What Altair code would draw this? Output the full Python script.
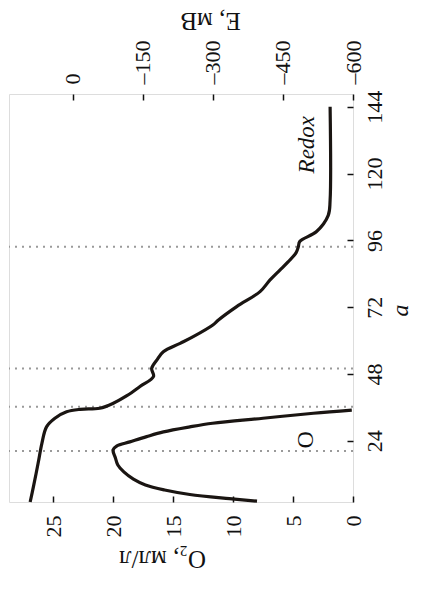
import altair as alt
import pandas as pd

# ---- data ----
o2_hours = [2.3, 3.2, 4.7, 6.3, 8.1, 10.2, 12.8, 15.3, 17.8, 20.7, 22.1, 23.6, 25.5, 27.2, 29.0, 30.3, 32.1, 33.9, 35.0]
o2_values = [8.0, 10.3, 13.6, 15.7, 17.3, 18.3, 19.1, 19.6, 19.8, 20.0, 19.7, 18.6, 17.2, 15.8, 13.6, 11.7, 7.5, 3.3, 0.1]

redox_hours = [2.0, 7.5, 15.9, 23.0, 29.0, 32.1, 34.4, 35.3, 35.7, 37.5, 40.2, 43.5, 47.1, 50.0, 53.0, 56.0, 59.0,
               61.4, 65.6, 67.4, 72.2, 77.6, 81.7, 85.4, 88.3, 91.5, 93.7, 95.6, 99.2, 105.0, 110.5, 144.0]
redox_mv = [91, 84, 74, 66, 56, 38, 13, -16, -58, -87, -116, -144, -173, -169, -180, -194, -230,
            -258, -300, -312, -351, -401, -422, -444, -461, -478, -483, -486, -522, -547, -551, -551]

dotted_hours = [20.3, 36.2, 50.0, 93.7]

a_ticks = [24, 48, 72, 96, 120, 144]
o2_ticks = [0, 5, 10, 15, 20, 25]
e_ticks = [0, -150, -300, -450, -600]

# ---- annotation positions ----
redox_label = {"a": 130.4, "e": -502, "t": "Redox"}
o_label = {"a": 24.3, "o2": 3.9, "t": "O"}

W, H = 344, 408
FONT = "Liberation Serif"
INK = "#1a1512"

y_dom = [2.0, 148.6]
o2_dom = [0, 28.67]
e_dom = [-600, 136.3]


def ys():
    return alt.Scale(domain=y_dom, nice=False, zero=False)


def o2s():
    return alt.Scale(domain=o2_dom, reverse=True, nice=False, zero=False)


def es():
    return alt.Scale(domain=e_dom, reverse=True, nice=False, zero=False)


o2_df = pd.DataFrame({"a": o2_hours, "o2": o2_values})
e_df = pd.DataFrame({"a": redox_hours, "e": redox_mv})

common_lbl = dict(ticks=False, tickSize=0, domain=False, grid=False, labelFlush=False,
                  labelOverlap=False, labelFontSize=22, titleFontSize=25, labelFont=FONT,
                  titleFont=FONT, labelColor="#111", titleColor="#111", titleFontWeight="normal",
                  titleAlign="center", titleBaseline="middle")
tick_only = dict(labels=False, domain=False, grid=False, ticks=True, tickSize=6, tickWidth=1.5,
                 tickColor="#111", title=None)

dots = alt.Chart(pd.DataFrame({"a": dotted_hours})).mark_rule(
    color="#9a9a9a", strokeWidth=2, strokeDash=[2, 5]
).encode(y=alt.Y("a:Q", scale=ys(), axis=None))

o2_line = alt.Chart(o2_df).mark_line(color=INK, strokeWidth=3.2, interpolate="catmull-rom").encode(
    x=alt.X("o2:Q", scale=o2s(), axis=alt.Axis(
        orient="bottom", values=o2_ticks, labelAngle=270, labelAlign="right", labelBaseline="middle",
        labelPadding=13, title="O₂, мл/л", titleAngle=180, titleX=153, titleY=56, **common_lbl)),
    y=alt.Y("a:Q", scale=ys(), axis=alt.Axis(
        orient="right", values=a_ticks, labelAngle=270, labelAlign="center", labelBaseline="top",
        labelPadding=11, title="a", titleAngle=270, titleX=47, titleY=216, titleFontSize=24,
        titleFontStyle="italic", **{k: v for k, v in common_lbl.items() if k != "titleFontSize"})),
    order="a:Q",
)

e_line = alt.Chart(e_df).mark_line(color=INK, strokeWidth=3.2, interpolate="catmull-rom").encode(
    x=alt.X("e:Q", scale=es(), axis=alt.Axis(
        orient="top", values=e_ticks, labelAngle=270, labelAlign="left", labelBaseline="middle",
        labelPadding=10, labelExpr="datum.value < 0 ? '–' + format(-datum.value, 'd') : '0'",
        title="E, мВ", titleAngle=180, titleX=201, titleY=-74, **common_lbl)),
    y=alt.Y("a:Q", scale=ys(), axis=None),
    order="a:Q",
)

o2_tick_layer = alt.Chart(o2_df).mark_line(strokeOpacity=0).encode(
    x=alt.X("o2:Q", scale=o2s(), axis=alt.Axis(orient="top", offset=-H, values=o2_ticks, **tick_only)),
    y=alt.Y("a:Q", scale=ys(), axis=alt.Axis(orient="left", offset=-W, values=a_ticks, **tick_only)),
)

e_tick_layer = alt.Chart(e_df).mark_line(strokeOpacity=0).encode(
    x=alt.X("e:Q", scale=es(), axis=alt.Axis(orient="bottom", offset=-H, values=e_ticks, **tick_only)),
    y=alt.Y("a:Q", scale=ys(), axis=None),
)

redox_text = alt.Chart(pd.DataFrame([redox_label])).mark_text(
    angle=270, font=FONT, fontStyle="italic", fontSize=23, color="#111"
).encode(
    x=alt.X("e:Q", scale=es(), axis=None),
    y=alt.Y("a:Q", scale=ys(), axis=None),
    text="t:N",
)

o_text = alt.Chart(pd.DataFrame([o_label])).mark_text(
    angle=270, font=FONT, fontSize=24, color="#111"
).encode(
    x=alt.X("o2:Q", scale=o2s(), axis=None),
    y=alt.Y("a:Q", scale=ys(), axis=None),
    text="t:N",
)

chart = alt.layer(
    dots, o2_line, e_line, redox_text, o_text, o2_tick_layer, e_tick_layer
).resolve_scale(
    x="independent", y="independent"
).properties(
    width=W, height=H,
    autosize=alt.AutoSizeParams(type="none"),
    padding={"left": 1, "top": 86, "right": 60, "bottom": 74},
).configure_view(
    stroke="#111", strokeWidth=2
).configure(
    font=FONT, background="white"
)

chart.save("out.html", embed_options={"renderer": "svg", "actions": False})
